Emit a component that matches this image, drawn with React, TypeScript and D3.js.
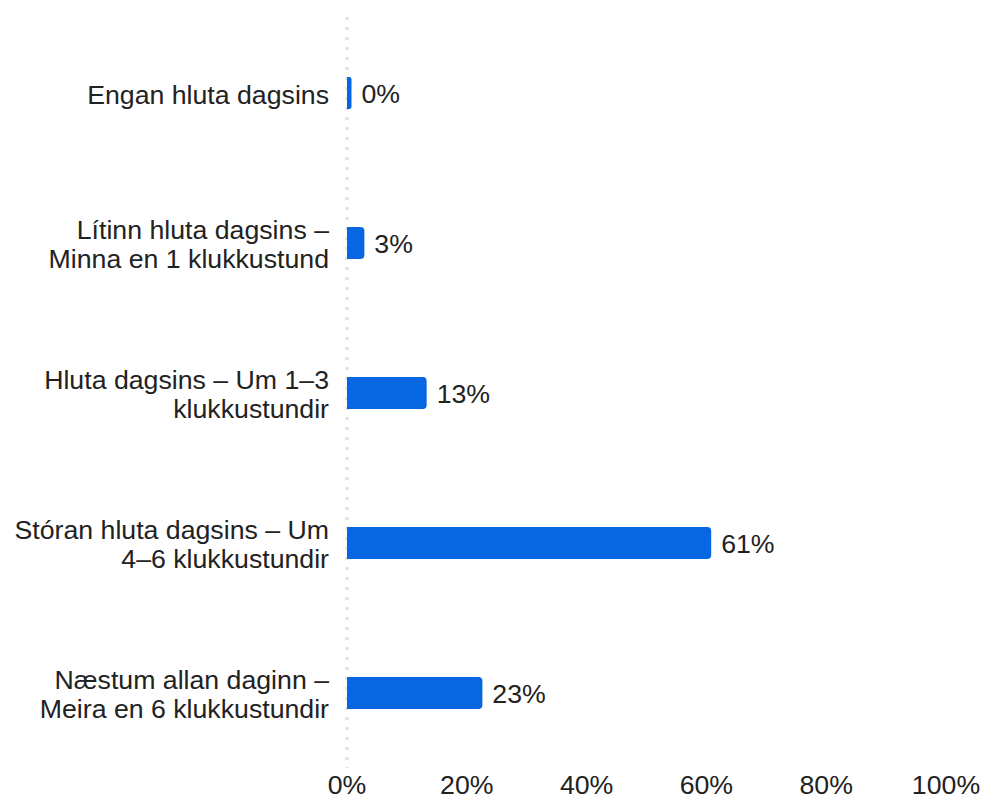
import React from "react";
import * as d3 from "d3";

const categories: string[][] = [
  ["Engan hluta dagsins"],
  ["Lítinn hluta dagsins –", "Minna en 1 klukkustund"],
  ["Hluta dagsins – Um 1–3", "klukkustundir"],
  ["Stóran hluta dagsins – Um", "4–6 klukkustundir"],
  ["Næstum allan daginn –", "Meira en 6 klukkustundir"],
];
const values: number[] = [0, 2.9, 13.3, 60.8, 22.6];
const ticks: number[] = [0, 20, 40, 60, 80, 100];

const W = 981;
const H = 799;
const FONT = "'Liberation Sans', Arial, sans-serif";
const BAR_COLOR = "#0766e1";
const TEXT_COLOR = "#222222";
const FS = 26.7;

function rightRoundedRect(x: number, y: number, w: number, h: number, r: number) {
  const rr = Math.min(r, w / 2, h / 2);
  return `M${x},${y}h${w - rr}a${rr},${rr} 0 0 1 ${rr},${rr}v${h - 2 * rr}a${rr},${rr} 0 0 1 ${-rr},${rr}h${-(w - rr)}Z`;
}

export default function App() {
  const x = d3.scaleLinear().domain([0, 100]).range([347, 946]);
  const y = d3
    .scaleBand<number>()
    .domain(d3.range(categories.length))
    .range([18, 768])
    .padding(0);
  const barH = 32;
  const lineH = 29;
  const fmt = (v: number) => `${Math.round(v)}%`;

  return (
    <svg
      width={W}
      height={H}
      style={{ position: "absolute", left: 0, top: 0, background: "#fff" }}
      fontFamily={FONT}
    >
      <line
        x1={x(0)}
        x2={x(0)}
        y1={17}
        y2={768}
        stroke="#e0e0e0"
        strokeWidth={3}
        strokeDasharray="3,7"
      />
      {categories.map((lines, i) => {
        const cy = (y(i) as number) + y.bandwidth() / 2;
        const x0 = x(0);
        const w = Math.max(x(values[i]) - x0, 4.5);
        const startY = cy + 1.5 - ((lines.length - 1) * lineH) / 2;
        return (
          <g key={i}>
            <text x={329} textAnchor="end" fontSize={FS} fill={TEXT_COLOR}>
              {lines.map((ln, j) => (
                <tspan key={j} x={329} y={startY + j * lineH} dy="0.35em">
                  {ln}
                </tspan>
              ))}
            </text>
            <path d={rightRoundedRect(x0, cy - barH / 2, w, barH, 4)} fill={BAR_COLOR} />
            <text x={x0 + w + 10} y={cy + 1} dy="0.35em" fontSize={FS} fill={TEXT_COLOR}>
              {fmt(values[i])}
            </text>
          </g>
        );
      })}
      {ticks.map((t) => (
        <text
          key={t}
          x={x(t)}
          y={785}
          dy="0.35em"
          textAnchor="middle"
          fontSize={FS}
          fill={TEXT_COLOR}
        >
          {`${t}%`}
        </text>
      ))}
    </svg>
  );
}
